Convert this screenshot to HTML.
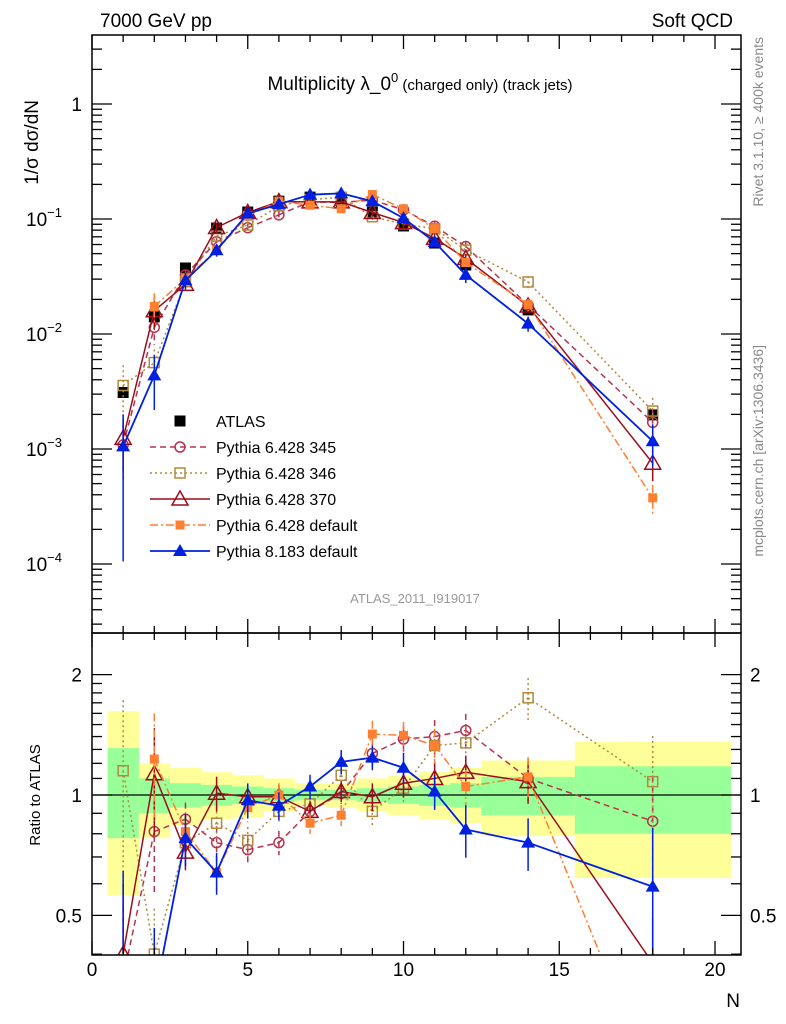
<!DOCTYPE html>
<html><head><meta charset="utf-8"><style>
html,body{margin:0;padding:0;background:#fff;width:786px;height:1024px;overflow:hidden;}
svg{display:block;font-family:"Liberation Sans",sans-serif;}
</style></head><body>
<svg id="c" width="786" height="1024" viewBox="0 0 786 1024">
<defs>
<clipPath id="cm"><rect x="92" y="35" width="649" height="598"/></clipPath>
<clipPath id="cr"><rect x="92" y="633" width="649" height="322"/></clipPath>
</defs>
<text x="100" y="27" font-size="19">7000 GeV pp</text>
<text x="733" y="27" font-size="19" text-anchor="end">Soft QCD</text>
<text x="420" y="90" font-size="19" text-anchor="middle">Multiplicity λ_0<tspan font-size="13" dy="-8">0</tspan><tspan font-size="15" dy="8"> (charged only) (track jets)</tspan></text>
<text transform="translate(38,100) rotate(-90)" font-size="19" text-anchor="end">1/σ dσ/dN</text>
<text transform="translate(40,795) rotate(-90)" font-size="15" text-anchor="middle">Ratio to ATLAS</text>
<text x="740" y="1007" font-size="19" text-anchor="end">N</text>
<text transform="translate(763,37) rotate(-90)" font-size="14" fill="#888" text-anchor="end">Rivet 3.1.10, ≥ 400k events</text>
<text transform="translate(763,345) rotate(-90)" font-size="14" fill="#888" text-anchor="end">mcplots.cern.ch [arXiv:1306.3436]</text>
<text x="415" y="603" font-size="13" fill="#999" text-anchor="middle">ATLAS_2011_I919017</text>
<g id="bands" clip-path="url(#cr)"></g>
<g id="main" clip-path="url(#cm)"></g>
<g id="ratio" clip-path="url(#cr)"></g>
<g id="axes"></g>
<g id="legend"></g>
</svg>
<script>
const Ns=[1,2,3,4,5,6,7,8,9,10,11,12,14,18];
const binLo=[0.5,1.5,2.5,3.5,4.5,5.5,6.5,7.5,8.5,9.5,10.5,11.5,12.5,15.5];
const binHi=[1.5,2.5,3.5,4.5,5.5,6.5,7.5,8.5,9.5,10.5,11.5,12.5,15.5,20.5];
const atlas=[0.0031,0.0141,0.0375,0.0835,0.115,0.143,0.155,0.138,0.115,0.087,0.0618,0.0398,0.0162,0.00198];
const yelUp=[1.62,1.20,1.17,1.14,1.12,1.10,1.07,1.07,1.10,1.12,1.14,1.17,1.22,1.36];
const yelDn=[0.56,0.78,0.84,0.87,0.88,0.91,0.94,0.93,0.91,0.89,0.87,0.85,0.79,0.62];
const grnUp=[1.31,1.10,1.07,1.06,1.05,1.04,1.03,1.03,1.04,1.05,1.06,1.07,1.11,1.18];
const grnDn=[0.78,0.90,0.93,0.94,0.95,0.96,0.97,0.97,0.96,0.95,0.94,0.93,0.89,0.80];
const r345=[0.35,0.81,0.87,0.76,0.73,0.76,0.91,1.01,1.27,1.38,1.40,1.45,1.10,0.86];
const r346=[1.15,0.40,0.76,0.85,0.77,0.91,0.95,1.12,0.91,1.04,1.33,1.35,1.75,1.08];
const r370=[0.40,1.13,0.72,1.01,0.99,0.99,0.91,1.02,0.99,1.07,1.10,1.14,1.08,0.38];
const rdef=[null,1.23,0.81,0.64,0.93,1.00,0.85,0.89,1.42,1.41,1.33,1.05,1.11,0.19];
const r8=[0.34,0.31,0.78,0.64,0.97,0.94,1.05,1.21,1.24,1.17,1.02,0.82,0.76,0.59];
const e345=[0.5,0.3,0.1,0.1,0.08,0.07,0.06,0.06,0.08,0.08,0.1,0.1,0.12,0.3];
const e8=[0.9,0.5,0.15,0.12,0.1,0.08,0.07,0.07,0.07,0.09,0.1,0.15,0.15,0.4];
const NS="http://www.w3.org/2000/svg";
const X=n=>92+n*31.15;
const YM=v=>104-115*Math.log10(v);
const YR=r=>795-400*Math.log10(r);
function mk(tag,at,parent){const e=document.createElementNS(NS,tag);for(const k in at)e.setAttribute(k,at[k]);parent.appendChild(e);return e;}
const gB=document.getElementById('bands'),gM=document.getElementById('main'),gR=document.getElementById('ratio'),gA=document.getElementById('axes'),gL=document.getElementById('legend');
const clampY=(y,t,b)=>Math.max(t,Math.min(b,y));
function clipSeg(a,b,t,bt){
 let [x1,y1]=a,[x2,y2]=b;
 const lerp=yy=>x1+(x2-x1)*(yy-y1)/(y2-y1);
 if((y1<t&&y2<t)||(y1>bt&&y2>bt))return null;
 let p=[x1,y1],q=[x2,y2];
 if(y1>bt){p=[lerp(bt),bt];} else if(y1<t){p=[lerp(t),t];}
 if(y2>bt){q=[lerp(bt),bt];} else if(y2<t){q=[lerp(t),t];}
 return [p,q];
}
Ns.forEach((n,i)=>{
 let y=mk('rect',{x:X(binLo[i]),y:clampY(YR(yelUp[i]),633,955),width:X(binHi[i])-X(binLo[i])+0.5,height:clampY(YR(yelDn[i]),633,955)-clampY(YR(yelUp[i]),633,955),fill:'#ffff99'},gB);
 
 
 let g=mk('rect',{x:X(binLo[i]),y:YR(grnUp[i]),width:X(binHi[i])-X(binLo[i])+0.5,height:YR(grnDn[i])-YR(grnUp[i]),fill:'#99ff99'},gB);
 
 
});
const one=mk('line',{x1:92,x2:741,y1:YR(1),y2:YR(1),stroke:'#000','stroke-width':1.3},gR);


function marker(p,type,color,x,y,s){
 s=s||6;
 if(type==='sq') return mk('rect',{x:x-s,y:y-s,width:2*s,height:2*s,fill:color},p);
 if(type==='osq') return mk('rect',{x:x-s+1,y:y-s+1,width:2*s-2,height:2*s-2,fill:'none',stroke:color,'stroke-width':1.5},p);
 if(type==='fsq') return mk('rect',{x:x-4.5,y:y-4.5,width:9,height:9,fill:color},p);
 if(type==='oc') return mk('circle',{cx:x,cy:y,r:5,fill:'none',stroke:color,'stroke-width':1.5},p);
 if(type==='otri') return mk('path',{d:`M${x},${y-8}L${x+8},${y+6}L${x-8},${y+6}Z`,fill:'none',stroke:color,'stroke-width':1.5},p);
 if(type==='tri') return mk('path',{d:`M${x},${y-7}L${x+7},${y+5}L${x-7},${y+5}Z`,fill:color},p);
}
const series=[
 {name:'Pythia 6.428 345',r:r345,e:e345,color:'#b5344f',dash:'6,4',m:'oc',w:1.5,key:'pythia-345'},
 {name:'Pythia 6.428 346',r:r346,e:e345,color:'#b08a3e',dash:'2,3',m:'osq',w:1.5,key:'pythia-346'},
 {name:'Pythia 6.428 370',r:r370,e:e345,color:'#9b0d1a',dash:'',m:'otri',w:1.5,key:'pythia-370'},
 {name:'Pythia 6.428 default',r:rdef,e:e345,color:'#ff7f30',dash:'8,3,2,3',m:'fsq',w:1.5,key:'pythia6-default'},
 {name:'Pythia 8.183 default',r:r8,e:e8,color:'#0020e0',dash:'',m:'tri',w:1.8,key:'pythia8-default'}
];
Ns.forEach((n,i)=>{
 const m=marker(gM,'sq','#000',X(n),YM(atlas[i]),5.5);
 
 
});
series.forEach(s=>{
 let pm=[],pr=[];
 Ns.forEach((n,i)=>{ if(s.r[i]==null)return; pm.push([X(n),YM(atlas[i]*s.r[i])]); pr.push([X(n),YR(s.r[i])]); });
 [[gM,pm,true,35,633],[gR,pr,false,633,955]].forEach(([g,pts,isMain,t,b])=>{
  for(let k=0;k<pts.length-1;k++){
   const c=clipSeg(pts[k],pts[k+1],t,b);
   if(!c)continue;
   const pl=mk('line',{x1:c[0][0],y1:c[0][1],x2:c[1][0],y2:c[1][1],fill:'none',stroke:s.color,'stroke-width':s.w,'stroke-dasharray':s.dash},g);
   
   
  }
 });
 Ns.forEach((n,i)=>{
  if(s.r[i]==null)return;
  const v=s.r[i],e=s.e[i];
  [[gM,YM,atlas[i]*v,'-point',35,633],[gR,YR,v,'-ratio-point',633,955]].forEach(([g,Y,val,suf,t,b])=>{
   const lo=Math.max(val*(1-e),val*0.02);
   const ya=clampY(Y(val*(1+e)),t,b),yb=clampY(Y(lo),t,b);
   if(yb>ya){
    const eb=mk('line',{x1:X(n),x2:X(n),y1:ya,y2:yb,stroke:s.color,'stroke-width':1.5,'stroke-dasharray':s.dash},g);
    
    
   }
   const yv=Y(val);
   if(yv>t-4&&yv<b+4){
    const mm=marker(g,s.m,s.color,X(n),yv);
    
    
   }
  });
 });
});
[[35,633],[633,955]].forEach(([t,b],k)=>{
 const r=mk('rect',{x:92,y:t,width:649,height:b-t,fill:'none',stroke:'#000','stroke-width':1.5},gA);
 
 
 for(let n=0;n<=20.5;n++){
  const L=n%5===0?14:7;
  mk('line',{x1:X(n),x2:X(n),y1:b,y2:b-L,stroke:'#000','stroke-width':1.3},gA);
  mk('line',{x1:X(n),x2:X(n),y1:t,y2:t+L,stroke:'#000','stroke-width':1.3},gA);
 }
});
[0,5,10,15,20].forEach(n=>{
 const t=mk('text',{x:X(n),y:976,'font-size':19,'text-anchor':'middle'},gA);
 t.textContent=n;
 
 
});
for(let d=-5;d<=0;d++){
 for(let m=1;m<10;m++){
  const v=m*Math.pow(10,d),y=YM(v);
  if(y<35||y>633)continue;
  const L=m===1?20:10;
  mk('line',{x1:92,x2:92+L,y1:y,y2:y,stroke:'#000','stroke-width':1.3},gA);
  mk('line',{x1:741,x2:741-L,y1:y,y2:y,stroke:'#000','stroke-width':1.3},gA);
 }
}
const mainLabels=['1','10','10','10','10'];
const mainExps=['','−1','−2','−3','−4'];
mainLabels.forEach((l,i)=>{
 const t=mk('text',{x:i?62:82,y:YM(Math.pow(10,-i))+7,'font-size':19,'text-anchor':'end'},gA);
 t.textContent=l;
 if(mainExps[i]){const sp=mk('tspan',{'font-size':13,dy:-9},t);sp.textContent=mainExps[i];}
 
 
});
const rTicks=[0.4,0.5,0.6,0.7,0.8,0.9,1,1.1,1.2,1.3,1.4,1.5,1.6,1.7,1.8,1.9,2];
rTicks.forEach(r=>{
 const y=YR(r),L=(r===0.5||r===1||r===2)?20:10;
 mk('line',{x1:92,x2:92+L,y1:y,y2:y,stroke:'#000','stroke-width':1.3},gA);
 mk('line',{x1:741,x2:741-L,y1:y,y2:y,stroke:'#000','stroke-width':1.3},gA);
});
const rLabels=['0.5','1','2'],rVals=[0.5,1,2];
rLabels.forEach((l,i)=>{
 const a=mk('text',{x:82,y:YR(rVals[i])+7,'font-size':19,'text-anchor':'end'},gA);a.textContent=l;
 
 
 const b=mk('text',{x:750,y:YR(rVals[i])+7,'font-size':19},gA);b.textContent=l;
 
 
});
const ly=[421,447,473,499,525,551];
const lt=mk('text',{x:216,y:ly[0]+6,'font-size':16},gL);lt.textContent='ATLAS';


marker(gL,'sq','#000',180,ly[0],5.5);
series.forEach((s,i)=>{
 const y=ly[i+1];
 mk('line',{x1:150,x2:210,y1:y,y2:y,stroke:s.color,'stroke-width':s.w,'stroke-dasharray':s.dash},gL);
 marker(gL,s.m,s.color,180,y);
 const t=mk('text',{x:216,y:y+6,'font-size':16},gL);t.textContent=s.name;
 
 
});
</script>
</body></html>
